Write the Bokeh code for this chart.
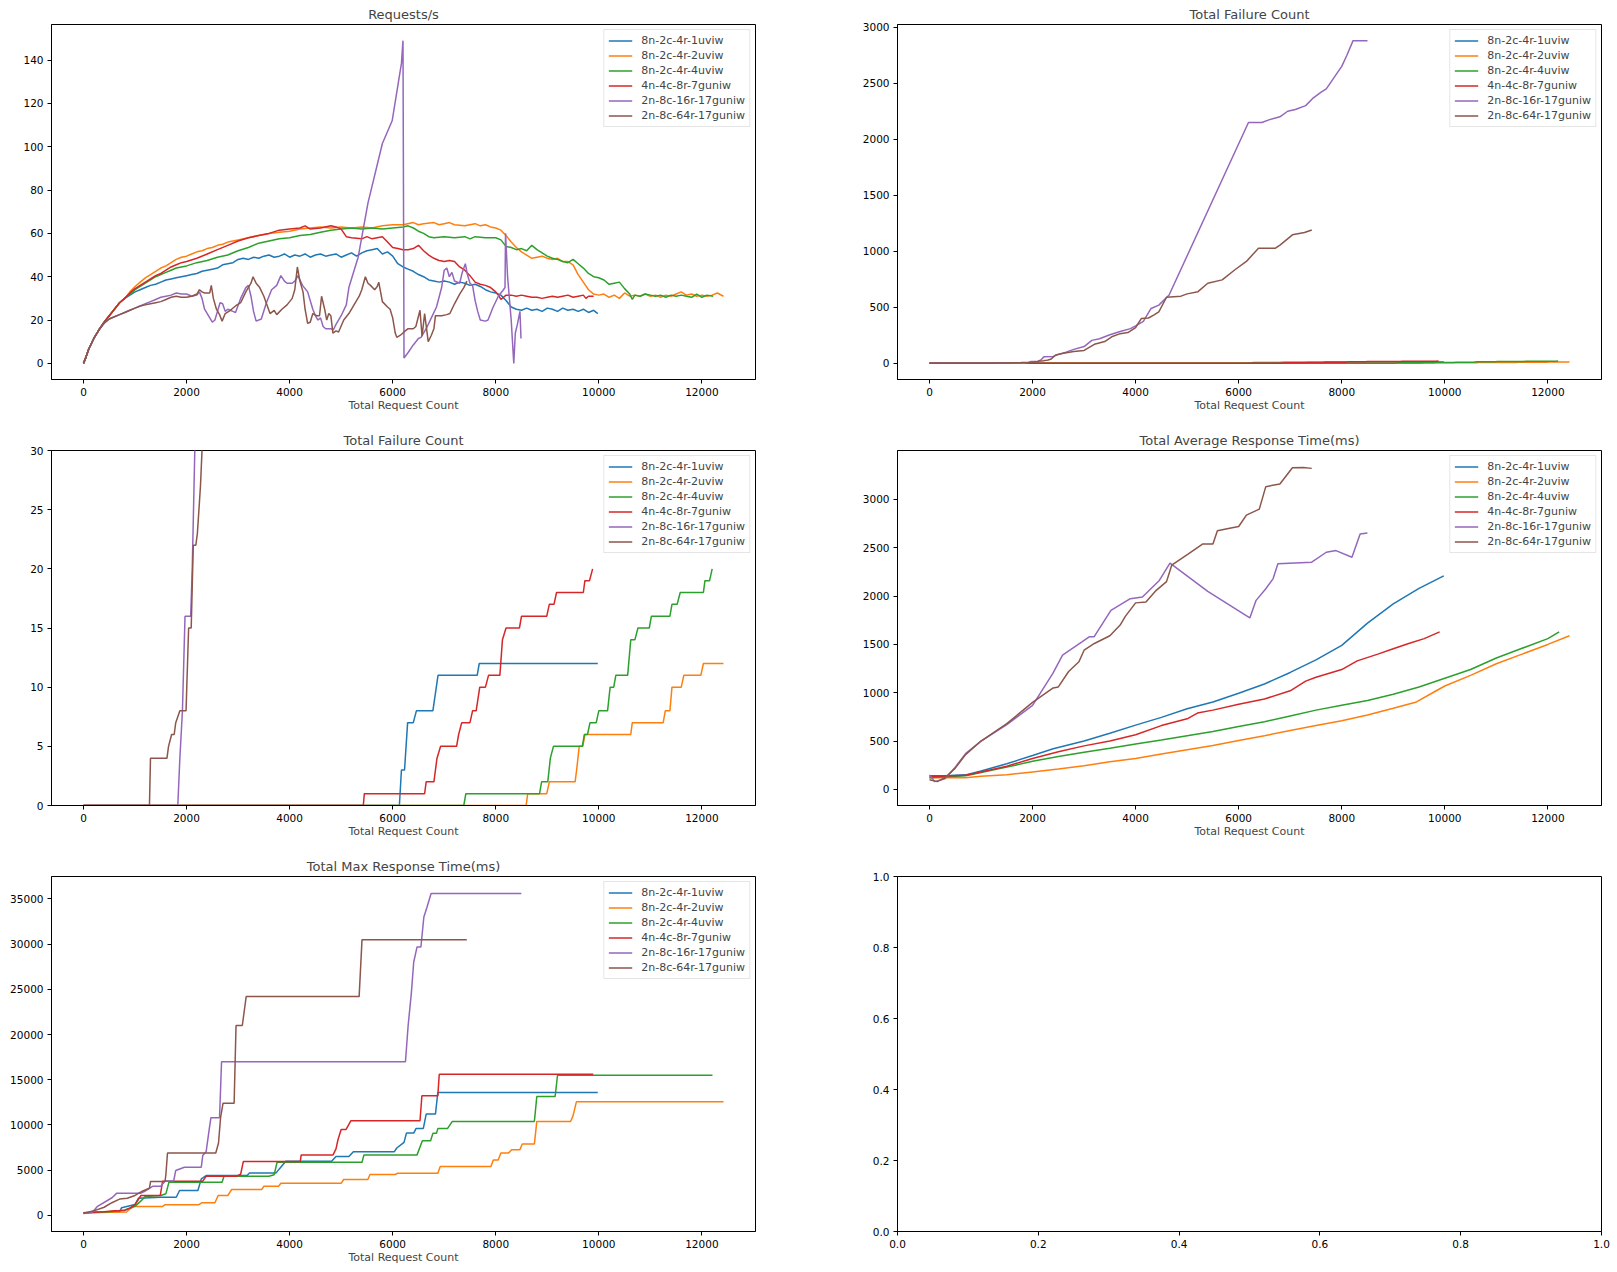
from bokeh.plotting import figure
from bokeh.layouts import gridplot
from bokeh.models import Range1d, FixedTicker
from bokeh.embed import file_html
from bokeh.resources import INLINE

labels = ["8n-2c-4r-1uviw", "8n-2c-4r-2uviw", "8n-2c-4r-4uviw",
          "4n-4c-8r-7guniw", "2n-8c-16r-17guniw", "2n-8c-64r-17guniw"]
colors = ["#1f77b4", "#ff7f0e", "#2ca02c", "#d62728", "#9467bd", "#8c564b"]

x_ticks = [0, 2000, 4000, 6000, 8000, 10000, 12000]

# Requests/s  (total request count, requests per second)
rps_1uviw = [(0, 0), (50, 3), (100, 6.5), (200, 11.5), (300, 15.5), (400, 19), (500, 22), (600, 25),
             (700, 28), (800, 30), (900, 31.5), (1000, 33), (1100, 34), (1200, 35), (1300, 36),
             (1400, 36.5), (1500, 37.5), (1600, 38.5), (1700, 39), (1800, 39.5), (1900, 40), (2000, 40.5),
             (2100, 41), (2200, 41.5), (2300, 42.5), (2400, 43), (2500, 43.5), (2600, 44), (2700, 45.5),
             (2800, 46), (2900, 46.5), (3000, 48), (3100, 48.5), (3200, 48), (3300, 49), (3400, 48.5),
             (3500, 49.5), (3600, 50), (3700, 49), (3800, 49.5), (3900, 50.5), (4000, 49), (4100, 50),
             (4200, 49.5), (4300, 50.5), (4400, 49), (4500, 50), (4600, 50.5), (4700, 49.5), (4800, 50),
             (4900, 50.5), (5000, 49), (5100, 50), (5200, 51), (5300, 49.5), (5400, 51), (5500, 52),
             (5600, 52.5), (5700, 53), (5800, 50.5), (5900, 51.5), (6000, 49.5), (6100, 46), (6200, 44.5),
             (6300, 43.5), (6400, 42.5), (6500, 41), (6600, 40), (6700, 38.5), (6800, 38), (6900, 37.5),
             (7000, 38), (7100, 37.5), (7200, 36.5), (7300, 37.5), (7400, 37), (7500, 36), (7600, 36.5),
             (7700, 35.5), (7800, 34), (7900, 33), (8000, 32.5), (8100, 31.5), (8200, 29), (8300, 26),
             (8400, 25), (8500, 24.5), (8600, 25.5), (8700, 24.5), (8800, 25), (8900, 24), (9000, 25.5),
             (9100, 25), (9200, 24), (9300, 25.5), (9400, 24.5), (9500, 25), (9600, 24), (9700, 25),
             (9800, 23.5), (9900, 24.5), (9980, 23)]
rps_2uviw = [(0, 0), (50, 3), (100, 6.5), (200, 11.5), (300, 15.5), (400, 19), (500, 22), (600, 25),
             (700, 28), (800, 30), (900, 33), (1000, 35.5), (1100, 37.5), (1200, 39.5), (1300, 41),
             (1400, 42.5), (1500, 44), (1600, 45), (1700, 46.5), (1800, 48), (1900, 49), (2000, 49.5),
             (2100, 50.5), (2200, 51.5), (2300, 52), (2400, 53), (2500, 53.5), (2600, 54.5), (2700, 55),
             (2800, 56), (2900, 56.5), (3000, 57), (3200, 58), (3400, 59), (3600, 60), (3800, 60.5),
             (4000, 61), (4200, 62), (4400, 62.5), (4600, 63), (4800, 62.5), (5000, 63), (5200, 62.5),
             (5400, 63), (5600, 62.5), (5800, 63.5), (6000, 64), (6200, 64), (6400, 65), (6500, 64),
             (6600, 64.5), (6800, 65), (6900, 64), (7000, 64.5), (7100, 65), (7200, 64), (7400, 63.5),
             (7600, 64.5), (7700, 63.5), (7800, 64), (7900, 63), (8000, 62.5), (8100, 61.5), (8200, 59),
             (8300, 56), (8400, 53.5), (8500, 51.5), (8600, 50), (8700, 48.5), (8800, 49), (8900, 49.5),
             (9000, 48.5), (9100, 48), (9200, 48.5), (9300, 47), (9400, 47), (9500, 45.5), (9600, 41),
             (9700, 37.5), (9800, 34), (9900, 32), (10000, 31.5), (10100, 32), (10200, 30.5),
             (10300, 31.5), (10400, 30), (10500, 32.5), (10600, 31), (10700, 31.5), (10800, 31),
             (10900, 32), (11000, 31), (11100, 31.5), (11200, 30.5), (11300, 31.5), (11400, 31),
             (11500, 32), (11600, 33), (11700, 31.5), (11800, 32), (11900, 31), (12000, 31.5),
             (12100, 31), (12200, 31.5), (12300, 32.5), (12420, 31)]
rps_4uviw = [(0, 0), (50, 3), (100, 6.5), (200, 11.5), (300, 15.5), (400, 19), (500, 22), (600, 25),
             (700, 28), (800, 30), (900, 32), (1000, 34), (1100, 35.5), (1200, 37), (1300, 38.5),
             (1400, 40), (1500, 41), (1600, 42), (1700, 43), (1800, 44), (1900, 44.5), (2000, 45),
             (2200, 46.5), (2400, 47.5), (2600, 49), (2800, 50), (3000, 52), (3200, 53.5), (3400, 55.5),
             (3600, 56.5), (3800, 57.5), (4000, 58), (4200, 59), (4400, 59.5), (4600, 60.5), (4800, 61.5),
             (5000, 62), (5200, 62.5), (5400, 62), (5600, 62.5), (5800, 62), (6000, 62.5), (6200, 63),
             (6300, 63.5), (6400, 62.5), (6500, 61), (6600, 60), (6700, 58.5), (6800, 58), (7000, 58.5),
             (7200, 58), (7400, 58.5), (7500, 57.5), (7600, 58.5), (7800, 58), (8000, 58), (8100, 57),
             (8200, 54), (8300, 53.5), (8400, 52.5), (8500, 53), (8600, 52), (8700, 54.5), (8800, 52.5),
             (8900, 51), (9000, 49.5), (9100, 48.5), (9200, 48), (9300, 47), (9400, 46.5), (9500, 48),
             (9600, 46), (9700, 44), (9800, 41.5), (9900, 40), (10000, 39.5), (10100, 38.5),
             (10200, 36.5), (10300, 37), (10400, 37.5), (10500, 34.5), (10600, 32), (10650, 29.5),
             (10700, 31.5), (10800, 31), (10900, 32), (11000, 31.5), (11100, 31), (11200, 31.5),
             (11300, 30.5), (11400, 31.5), (11500, 31), (11600, 31.5), (11700, 31), (11800, 30.5),
             (11900, 32), (12000, 30.5), (12100, 31.5), (12220, 31)]
rps_7guniw = [(0, 0), (50, 3), (100, 6.5), (200, 11.5), (300, 15.5), (400, 19), (500, 22), (600, 25),
              (700, 28), (800, 30), (900, 32.5), (1000, 34.5), (1100, 36), (1200, 37.5), (1300, 39),
              (1400, 40.5), (1500, 41.5), (1600, 43), (1700, 44.5), (1800, 45.5), (1900, 46.5),
              (2000, 47), (2200, 48.5), (2400, 50.5), (2600, 52.5), (2800, 54.5), (3000, 56.5),
              (3200, 58), (3400, 59), (3600, 60), (3800, 61.5), (4000, 62), (4200, 62.5), (4300, 63.5),
              (4400, 62), (4600, 62.5), (4800, 63.5), (4900, 63), (5000, 62), (5100, 58.5), (5200, 58),
              (5400, 57.5), (5500, 58.5), (5600, 57.5), (5700, 58), (5800, 58.5), (5900, 56), (6000, 53.5),
              (6100, 53), (6200, 52.5), (6300, 52.5), (6400, 53), (6500, 54.5), (6600, 52), (6700, 50),
              (6800, 48.5), (6900, 47.5), (7000, 47), (7100, 47.5), (7200, 47), (7300, 44.5), (7400, 43),
              (7500, 40.5), (7600, 37.5), (7700, 36.5), (7800, 36), (7900, 35), (8000, 33), (8050, 31.5),
              (8100, 29.5), (8200, 31.5), (8300, 31.5), (8400, 31), (8500, 31.5), (8600, 31),
              (8700, 30.5), (8800, 30.5), (8900, 30), (9000, 30.5), (9100, 31), (9200, 30.5), (9300, 31),
              (9400, 31.5), (9500, 30.5), (9600, 31), (9700, 31.5), (9750, 30), (9800, 31), (9900, 31)]
rps_16r = [(0, 0), (50, 3), (100, 6.5), (200, 11.5), (300, 15.5), (400, 18.5), (500, 20.5), (600, 21.5),
           (700, 22.5), (800, 23.5), (900, 24.5), (1000, 25.5), (1100, 26.5), (1200, 27.5), (1300, 28.5),
           (1400, 29.5), (1500, 30.5), (1600, 31), (1700, 31.5), (1800, 32.5), (1900, 32), (2000, 32),
           (2100, 31), (2200, 31.5), (2250, 33), (2300, 30), (2350, 25), (2450, 21), (2500, 19),
           (2550, 20), (2600, 24), (2650, 28), (2700, 27.5), (2750, 24), (2800, 25), (2900, 24),
           (2950, 23.5), (3050, 30), (3150, 35), (3200, 36), (3250, 31), (3300, 24), (3350, 19.5),
           (3450, 20.5), (3550, 28), (3650, 34), (3750, 36), (3830, 40.5), (3900, 38), (3950, 37),
           (4050, 37), (4100, 38), (4160, 40.5), (4250, 36), (4350, 33), (4450, 25), (4500, 22),
           (4550, 20), (4600, 21), (4650, 17), (4700, 16), (4800, 16), (4850, 15.5), (4900, 18),
           (5000, 22), (5100, 27), (5150, 35), (5330, 49), (5520, 74), (5800, 101.5), (5990, 112),
           (6170, 138.5), (6200, 149), (6220, 2.5), (6300, 5), (6400, 8.5), (6500, 11.5), (6550, 12),
           (6650, 16), (6750, 21), (6850, 26), (6950, 35), (7000, 43), (7050, 44), (7100, 40),
           (7150, 42), (7200, 38), (7300, 37), (7350, 42), (7410, 46), (7450, 41), (7500, 37),
           (7550, 36), (7600, 29), (7650, 24), (7700, 20), (7800, 19.5), (7850, 20), (7950, 26),
           (8050, 31), (8150, 34), (8180, 35), (8190, 60), (8230, 40), (8300, 20), (8350, 0),
           (8380, 14), (8420, 18), (8470, 24), (8490, 11.5)]
rps_64r = [(0, 0), (50, 3), (100, 6.5), (200, 11.5), (300, 15.5), (400, 18.5), (500, 20.5), (600, 21.5),
           (700, 22.5), (800, 23.5), (900, 24.5), (1000, 25.5), (1100, 26.5), (1200, 27), (1300, 27.5),
           (1400, 28), (1500, 28.5), (1600, 29.5), (1700, 30.5), (1800, 31), (1900, 30.5), (2000, 30.5),
           (2100, 31), (2200, 32), (2250, 34), (2300, 33), (2350, 32.5), (2450, 32.5), (2480, 36),
           (2520, 30), (2580, 25), (2640, 22.5), (2690, 19.5), (2750, 23), (2850, 24.5), (2950, 26.5),
           (3050, 28), (3150, 33), (3250, 37), (3290, 40), (3350, 37), (3420, 35), (3500, 31),
           (3560, 27), (3620, 23), (3700, 24.5), (3750, 22.5), (3850, 25), (3950, 27), (4050, 30),
           (4100, 34), (4150, 44.5), (4200, 38), (4260, 33), (4300, 25), (4350, 18.5), (4400, 19),
           (4450, 23), (4520, 22), (4580, 22), (4620, 31), (4680, 25), (4720, 20), (4760, 23),
           (4800, 22), (4840, 14), (4900, 15), (4950, 14.5), (5050, 20), (5150, 23), (5250, 27),
           (5350, 31), (5400, 34), (5470, 40), (5520, 37), (5570, 36), (5650, 34), (5700, 35.5),
           (5730, 37.5), (5800, 28.5), (5900, 26), (5950, 25), (6000, 21), (6050, 14), (6080, 12),
           (6150, 13), (6220, 14.5), (6300, 16), (6400, 16), (6450, 17), (6530, 24.5), (6570, 12.5),
           (6620, 23), (6690, 10), (6750, 13), (6800, 16), (6830, 22), (6950, 22), (7050, 22.5),
           (7110, 23), (7200, 27.5), (7300, 32), (7380, 35), (7440, 38)]

# Total Failure Count
fail_1uviw = [(0, 0), (6130, 0), (6170, 3), (6230, 3), (6290, 7), (6400, 7), (6460, 8), (6780, 8),
              (6880, 11), (7640, 11), (7680, 12), (9980, 12)]
fail_2uviw = [(0, 0), (8590, 0), (8620, 1), (8990, 1), (9040, 2), (9540, 2), (9570, 3), (9620, 5),
              (9690, 5), (9730, 6), (10620, 6), (10650, 7), (11250, 7), (11290, 8), (11380, 8),
              (11420, 10), (11600, 10), (11650, 11), (11980, 11), (12030, 12), (12420, 12)]
fail_4uviw = [(0, 0), (7380, 0), (7420, 1), (8850, 1), (8890, 2), (9010, 2), (9060, 4), (9120, 5),
              (9680, 5), (9720, 6), (9780, 6), (9830, 7), (9950, 7), (10000, 8), (10170, 8),
              (10220, 10), (10290, 10), (10330, 11), (10560, 11), (10620, 14), (10700, 14),
              (10760, 15), (10980, 15), (11020, 16), (11380, 16), (11420, 17), (11520, 17),
              (11580, 18), (12030, 18), (12060, 19), (12150, 19), (12200, 20)]
fail_7guniw = [(0, 0), (5430, 0), (5450, 1), (6620, 1), (6650, 2), (6800, 2), (6860, 4), (6930, 5),
               (7240, 5), (7280, 6), (7340, 7), (7500, 7), (7550, 8), (7620, 8), (7690, 10),
               (7800, 10), (7860, 11), (8080, 11), (8130, 14), (8200, 15), (8460, 15), (8500, 16),
               (8990, 16), (9040, 17), (9130, 17), (9180, 18), (9700, 18), (9730, 19), (9820, 19),
               (9880, 20)]
fail_16r = [(0, 0), (1830, 0), (1870, 4), (1920, 8), (1970, 16), (2080, 16), (2110, 20), (2160, 30),
            (2225, 60), (2400, 62), (2500, 80), (2650, 100), (2800, 125), (3000, 150), (3150, 205),
            (3300, 220), (3500, 255), (3700, 285), (3900, 310), (4000, 335), (4150, 375), (4300, 490),
            (4450, 520), (4650, 610), (6190, 2150), (6450, 2150), (6600, 2175), (6800, 2200),
            (6950, 2250), (7100, 2265), (7300, 2300), (7450, 2370), (7600, 2420), (7700, 2450),
            (7850, 2550), (8000, 2650), (8100, 2750), (8220, 2880), (8500, 2880)]
fail_64r = [(0, 0), (1280, 0), (1300, 4), (1620, 4), (1650, 5), (1710, 6), (1760, 6), (1790, 7),
            (1870, 8), (1990, 8), (2040, 15), (2090, 15), (2130, 22), (2180, 22), (2210, 23),
            (2270, 27), (2300, 30), (2350, 36), (2450, 75), (2600, 90), (2800, 105), (3000, 115),
            (3200, 170), (3400, 195), (3550, 240), (3700, 265), (3850, 275), (4000, 320), (4110, 400),
            (4250, 405), (4350, 430), (4450, 460), (4600, 590), (4880, 600), (5000, 620), (5210, 640),
            (5400, 715), (5680, 745), (5940, 840), (6150, 910), (6385, 1028), (6714, 1028),
            (6808, 1058), (7043, 1147), (7277, 1168), (7418, 1190)]

# Total Average Response Time(ms)
avg_1uviw = [(0, 140), (300, 140), (700, 150), (1000, 190), (1500, 265), (2000, 350), (2400, 420),
             (3000, 500), (3500, 580), (4000, 665), (4500, 745), (5000, 835), (5500, 905), (6000, 995),
             (6500, 1090), (7000, 1210), (7500, 1340), (8000, 1490), (8500, 1720), (9000, 1920),
             (9500, 2080), (9980, 2210)]
avg_2uviw = [(0, 120), (700, 120), (1000, 135), (1500, 150), (2000, 180), (2500, 210), (3000, 245),
             (3500, 285), (4000, 320), (4500, 365), (5000, 410), (5500, 455), (6000, 505), (6500, 555),
             (7000, 610), (7500, 660), (8000, 710), (8500, 770), (9000, 840), (9450, 905), (9800, 1010),
             (10000, 1070), (10500, 1180), (11000, 1300), (11500, 1400), (12000, 1500), (12420, 1590)]
avg_4uviw = [(0, 120), (700, 140), (1000, 175), (1500, 230), (2000, 290), (2500, 340), (3000, 385),
             (3500, 425), (4000, 470), (4500, 510), (5000, 555), (5500, 600), (6000, 650), (6500, 700),
             (7000, 760), (7500, 820), (8000, 870), (8500, 920), (9000, 985), (9500, 1060),
             (10000, 1150), (10500, 1240), (11000, 1360), (11500, 1460), (12000, 1560), (12220, 1630)]
avg_7guniw = [(0, 130), (700, 145), (1000, 180), (1500, 240), (2000, 320), (2500, 390), (3000, 450),
              (3500, 500), (4000, 565), (4500, 660), (5000, 730), (5200, 790), (5500, 820), (6000, 880),
              (6500, 935), (7000, 1020), (7300, 1120), (7500, 1160), (8000, 1240), (8300, 1330),
              (8700, 1400), (9000, 1455), (9300, 1510), (9600, 1560), (9900, 1630)]
avg_16r = [(0, 150), (100, 80), (300, 110), (500, 230), (700, 370), (1000, 500), (1500, 670),
           (2000, 870), (2394, 1200), (2582, 1390), (2958, 1527), (3099, 1579), (3193, 1579),
           (3521, 1853), (3897, 1973), (4132, 1991), (4460, 2162), (4667, 2341), (5400, 2050),
           (6216, 1774), (6338, 1956), (6526, 2076), (6667, 2179), (6761, 2334), (7418, 2351),
           (7700, 2454), (7888, 2471), (8198, 2402), (8357, 2643), (8498, 2653)]
avg_64r = [(0, 100), (150, 80), (300, 120), (500, 220), (700, 360), (1000, 500), (1500, 680),
           (2000, 900), (2400, 1050), (2500, 1060), (2700, 1220), (2900, 1320), (3000, 1440),
           (3200, 1510), (3500, 1590), (3700, 1700), (3800, 1790), (4000, 1930), (4200, 1940),
           (4400, 2060), (4600, 2150), (4700, 2320), (5024, 2437), (5305, 2540), (5500, 2540),
           (5587, 2677), (5800, 2700), (6000, 2720), (6150, 2838), (6400, 2900), (6526, 3133),
           (6800, 3160), (7043, 3329), (7250, 3330), (7418, 3322)]

# Total Max Response Time(ms)
max_1uviw = [(0, 300), (700, 400), (740, 850), (1000, 1200), (1068, 1900), (1500, 2000), (1800, 2000),
             (1864, 2750), (2220, 2750), (2286, 4040), (2380, 4400), (3176, 4400), (3222, 4700),
             (3738, 4700), (3800, 5140), (3925, 5990), (4815, 5990), (4900, 6500), (5150, 6500),
             (5237, 7050), (6033, 7050), (6080, 7450), (6220, 8080), (6267, 9100), (6408, 9100),
             (6455, 9620), (6595, 9620), (6650, 11200), (6830, 11200), (6876, 13590), (9980, 13590)]
max_2uviw = [(0, 300), (834, 370), (900, 700), (974, 990), (1536, 990), (1583, 1175), (2239, 1175),
             (2300, 1400), (2550, 1400), (2614, 2200), (2801, 2200), (2876, 2865), (3457, 2865),
             (3503, 3230), (3785, 3230), (3831, 3560), (5002, 3560), (5049, 3970), (5518, 3970),
             (5560, 4520), (6050, 4520), (6098, 4670), (6876, 4670), (6923, 5400), (7906, 5400),
             (7953, 6130), (8047, 6130), (8100, 6900), (8250, 6900), (8309, 7270), (8469, 7270),
             (8515, 7900), (8750, 7900), (8797, 10390), (9452, 10390), (9500, 11000), (9565, 12560),
             (12420, 12560)]
max_4uviw = [(0, 300), (500, 400), (800, 600), (1000, 1000), (1115, 1600), (1200, 2100), (1500, 2200),
             (1600, 2400), (1658, 3670), (2689, 3670), (2726, 4330), (3597, 4330), (3700, 4500),
             (3757, 5880), (5405, 5880), (5443, 6690), (6473, 6690), (6576, 8260), (6736, 8260),
             (6780, 9070), (6850, 9070), (6876, 9600), (7063, 9600), (7157, 10390), (8750, 10390),
             (8797, 13150), (9153, 13150), (9199, 15500), (12206, 15500)]
max_7guniw = [(0, 300), (400, 400), (600, 500), (800, 550), (900, 800), (1000, 1200), (1115, 2200),
              (1490, 2200), (1536, 3780), (2314, 3780), (2380, 4330), (2970, 4330), (3050, 4550),
              (3101, 5950), (4206, 5950), (4225, 6690), (4843, 6690), (4900, 7350), (4937, 8340),
              (5000, 9500), (5096, 9500), (5190, 10470), (6530, 10470), (6567, 13220), (6876, 13220),
              (6904, 15610), (9892, 15610)]
max_16r = [(0, 200), (178, 370), (272, 1000), (553, 1950), (646, 2460), (1115, 2460), (1200, 2700),
           (1349, 3230), (1500, 3230), (1583, 3800), (1750, 3800), (1789, 4960), (1958, 5330),
           (2286, 5330), (2314, 6610), (2380, 7050), (2445, 9730), (2473, 10800), (2640, 10800),
           (2679, 17000), (6248, 17000), (6300, 21000), (6361, 24500), (6408, 28000), (6473, 29700),
           (6548, 29700), (6605, 33000), (6661, 34000), (6745, 35600), (8497, 35600)]
max_64r = [(0, 200), (200, 500), (400, 900), (550, 1400), (700, 1800), (850, 1900), (1000, 2200),
           (1150, 2700), (1280, 3000), (1302, 3750), (1583, 3750), (1600, 4600), (1630, 6900),
           (2567, 6900), (2620, 8000), (2660, 10800), (2707, 12400), (2923, 12400), (2960, 21000),
           (3082, 21000), (3157, 24200), (5349, 24200), (5405, 30500), (7438, 30500)]

rps_series = [rps_1uviw, rps_2uviw, rps_4uviw, rps_7guniw, rps_16r, rps_64r]
fail_series = [fail_1uviw, fail_2uviw, fail_4uviw, fail_7guniw, fail_16r, fail_64r]
avg_series = [avg_1uviw, avg_2uviw, avg_4uviw, avg_7guniw, avg_16r, avg_64r]
max_series = [max_1uviw, max_2uviw, max_4uviw, max_7guniw, max_16r, max_64r]

FONT = "DejaVu Sans"


def style_axes(p, xticks, yticks):
    p.xgrid.visible = False
    p.ygrid.visible = False
    p.outline_line_color = "black"
    p.outline_line_alpha = 1.0
    p.xaxis.ticker = FixedTicker(ticks=xticks)
    p.yaxis.ticker = FixedTicker(ticks=yticks)
    for ax in p.xaxis + p.yaxis:
        ax.axis_line_color = "black"
        ax.major_tick_line_color = "black"
        ax.minor_tick_line_color = None
        ax.major_tick_out = 4
        ax.major_tick_in = 0
        ax.major_label_standoff = 4
        ax.major_label_text_font = FONT
        ax.major_label_text_font_size = "10.5px"
        ax.major_label_text_color = "black"


def new_fig(col, row, xr, yr):
    # the last row keeps only room for its x label below
    height = 418 if row == 2 else 426
    bottom = 39 if row == 2 else 47
    left = 51 if col == 0 else 89
    right = 53 if col == 0 else 15
    return figure(width=808, height=height, output_backend="svg", toolbar_location=None,
                  x_range=xr, y_range=yr,
                  min_border_left=left, min_border_right=right,
                  min_border_top=24, min_border_bottom=bottom)


def make_panel(title, series, yrange, yticks, col, row):
    p = new_fig(col, row, Range1d(-621, 13041), Range1d(*yrange))
    p.title.text = title
    p.title.align = "center"
    p.title.text_font = FONT
    p.title.text_font_size = "13px"
    p.title.text_font_style = "normal"
    p.title.standoff = 5
    style_axes(p, x_ticks, yticks)
    p.xaxis.axis_label = "Total Request Count"
    p.xaxis.axis_label_text_font = FONT
    p.xaxis.axis_label_text_font_size = "11px"
    p.xaxis.axis_label_text_font_style = "normal"
    p.xaxis.axis_label_standoff = 0

    for pts, name, color in zip(series, labels, colors):
        xs = [a for a, b in pts]
        ys = [b for a, b in pts]
        p.line(xs, ys, line_color=color, line_width=1.5, legend_label=name)

    lg = p.legend[0]
    lg.location = "top_right"
    lg.margin = 5
    lg.padding = 4
    lg.spacing = 2
    lg.label_text_font = FONT
    lg.label_text_font_size = "11px"
    lg.label_height = 13
    lg.glyph_height = 13
    lg.glyph_width = 24
    lg.label_standoff = 9
    lg.border_line_color = "#cccccc"
    lg.background_fill_alpha = 0.8
    return p


p1 = make_panel("Requests/s", rps_series, (-7.45, 156.45), [0, 20, 40, 60, 80, 100, 120, 140], 0, 0)
p2 = make_panel("Total Failure Count", fail_series, (-144, 3024),
                [0, 500, 1000, 1500, 2000, 2500, 3000], 1, 0)
p3 = make_panel("Total Failure Count", fail_series, (0, 30), [0, 5, 10, 15, 20, 25, 30], 0, 1)
p4 = make_panel("Total Average Response Time(ms)", avg_series, (-167, 3507),
                [0, 500, 1000, 1500, 2000, 2500, 3000], 1, 1)
p5 = make_panel("Total Max Response Time(ms)", max_series, (-1785, 37485),
                [0, 5000, 10000, 15000, 20000, 25000, 30000, 35000], 0, 2)

# empty sixth axes
unit_ticks = [0, 0.2, 0.4, 0.6, 0.8, 1.0]
unit_labels = {0: "0.0", 0.2: "0.2", 0.4: "0.4", 0.6: "0.6", 0.8: "0.8", 1.0: "1.0"}
p6 = new_fig(1, 2, Range1d(0, 1), Range1d(0, 1))
style_axes(p6, unit_ticks, unit_ticks)
p6.xaxis.major_label_overrides = unit_labels
p6.yaxis.major_label_overrides = unit_labels

grid = gridplot([[p1, p2], [p3, p4], [p5, p6]], toolbar_location=None)

open("out.html", "w").write(file_html(grid, INLINE))
